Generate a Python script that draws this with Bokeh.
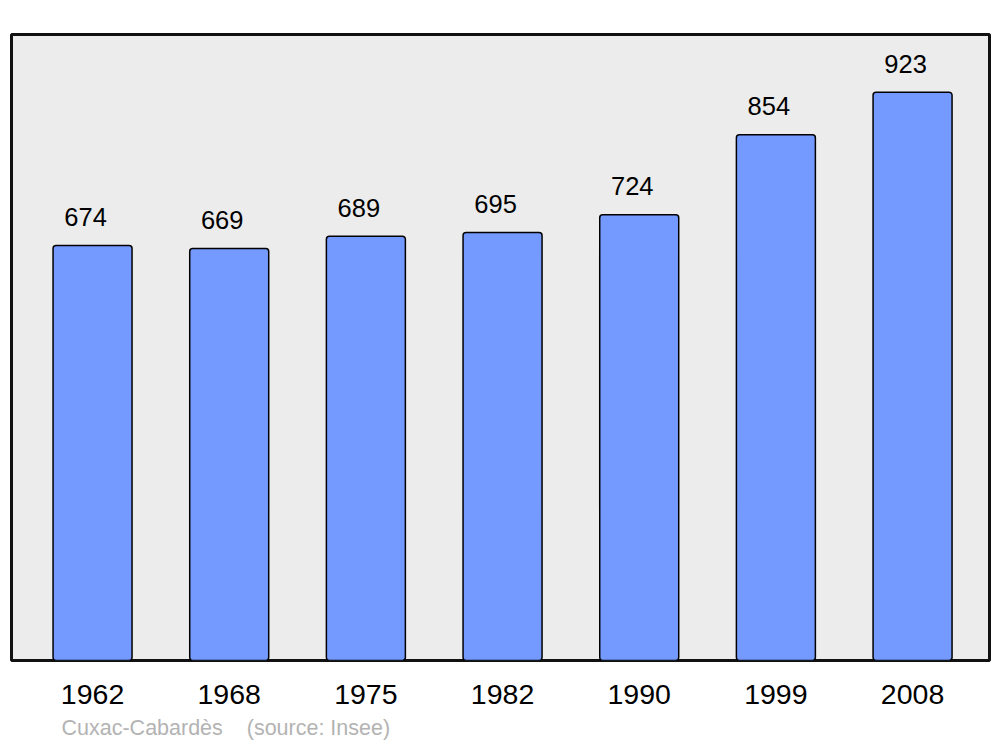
from bokeh.plotting import figure
from bokeh.models import ColumnDataSource, Range1d, FixedTicker, Title
from bokeh.core.properties import value
from bokeh.embed import file_html
from bokeh.resources import INLINE

years = ["1962", "1968", "1975", "1982", "1990", "1999", "2008"]
population = [674, 669, 689, 695, 724, 854, 923]
caption = "Cuxac-Cabardès\u00a0\u00a0\u00a0\u00a0(source: Insee)"

idx = list(range(len(years)))
src = ColumnDataSource(dict(x=idx, top=population, label=[str(v) for v in population]))

p = figure(width=992, height=747, output_backend="svg", toolbar_location=None,
           x_range=Range1d(-0.593, 6.563), y_range=Range1d(0, 1016.7),
           min_border_left=11, min_border_right=3, min_border_top=34, min_border_bottom=87)
p.background_fill_color = "#ececec"
p.border_fill_color = "white"
p.outline_line_color = "#111111"
p.outline_line_width = 3
p.grid.visible = False
p.yaxis.visible = False

p.vbar(x="x", top="top", width=0.578, bottom=0, source=src,
       fill_color="#7499ff", line_color="black", line_width=1.5, border_radius=3)
p.text(x="x", y="top", text="label", source=src, x_offset=-7, y_offset=-28.5,
       text_align="center", text_baseline="middle",
       text_font=value("Liberation Sans"), text_font_size="25.5px", text_color="black")

ax = p.xaxis[0]
ax.ticker = FixedTicker(ticks=idx)
ax.major_label_overrides = {i: y for i, y in zip(idx, years)}
ax.axis_line_color = None
ax.major_tick_line_color = None
ax.minor_tick_line_color = None
ax.major_tick_out = 0
ax.major_label_standoff = 24
ax.major_label_text_font = "Liberation Sans"
ax.major_label_text_font_size = "28.5px"
ax.major_label_text_color = "black"

p.add_layout(Title(text=caption, align="left", offset=50, standoff=15, text_font="Liberation Sans",
                   text_font_size="21.5px", text_font_style="normal", text_color="#b3b3b3"), "below")

open("out.html", "w").write(file_html(p, INLINE))
